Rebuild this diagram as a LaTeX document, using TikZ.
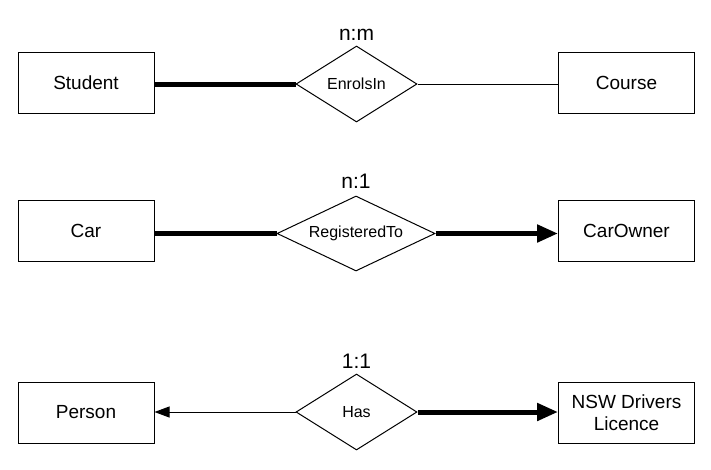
\documentclass[tikz,border=0pt]{standalone}
\usepackage{fontspec}
\setmainfont{Liberation Sans}
\usetikzlibrary{shapes.geometric,arrows.meta}
\begin{document}
\begin{tikzpicture}[x=1pt,y=-1pt,
  entity/.style={draw,line width=1pt,minimum width=136pt,minimum height=61pt,inner sep=0pt,font=\fontsize{19}{22.5}\selectfont,align=center},
  rel/.style={draw,diamond,aspect=2,line width=1pt,inner sep=0pt,font=\fontsize{16}{19}\selectfont},
  card/.style={font=\fontsize{21}{24}\selectfont,anchor=base},
  thin/.style={line width=1pt},
  heavy/.style={line width=5pt},
  thinarrow/.style={line width=1pt,-{Triangle[length=15pt,width=11pt]}},
  heavyarrow/.style={line width=5pt,-{Triangle[length=21pt,width=17pt]}}]
\useasboundingbox (0,0) rectangle (711,469);
% row 1
\node[entity] (student) at (86,82.5) {Student};
\node[rel,minimum width=121pt,minimum height=76pt] (enrols) at (356.5,84) {EnrolsIn};
\node[entity] (course) at (626.5,82.5) {Course};
\node[card] (nm) at (356.5,40) {n:m};
\draw[heavy] (student.east |- enrols.west) -- (enrols.west);
\draw[thin] (enrols.east) -- (course.west |- enrols.east);
% row 2
\node[entity] (car) at (86,231) {Car};
\node[rel,minimum width=158pt,minimum height=75pt] (reg) at (356,233.5) {RegisteredTo};
\node[entity] (carowner) at (626.5,231) {CarOwner};
\node[card] (n1) at (356,188.5) {n:1};
\draw[heavy] (car.east |- reg.west) -- (reg.west);
\draw[heavyarrow] (reg.east) -- (carowner.west |- reg.east);
% row 3
\node[entity] (person) at (86,412.5) {Person};
\node[rel,minimum width=121pt,minimum height=76pt] (has) at (356.5,412) {Has};
\node[entity] (nsw) at (626.5,412.5) {NSW Drivers\\Licence};
\node[card] (oneone) at (356.5,368) {1:1};
\draw[thinarrow] (has.west) -- (person.east |- has.west);
\draw[heavyarrow] (has.east) -- (nsw.west |- has.east);
\end{tikzpicture}
\end{document}
